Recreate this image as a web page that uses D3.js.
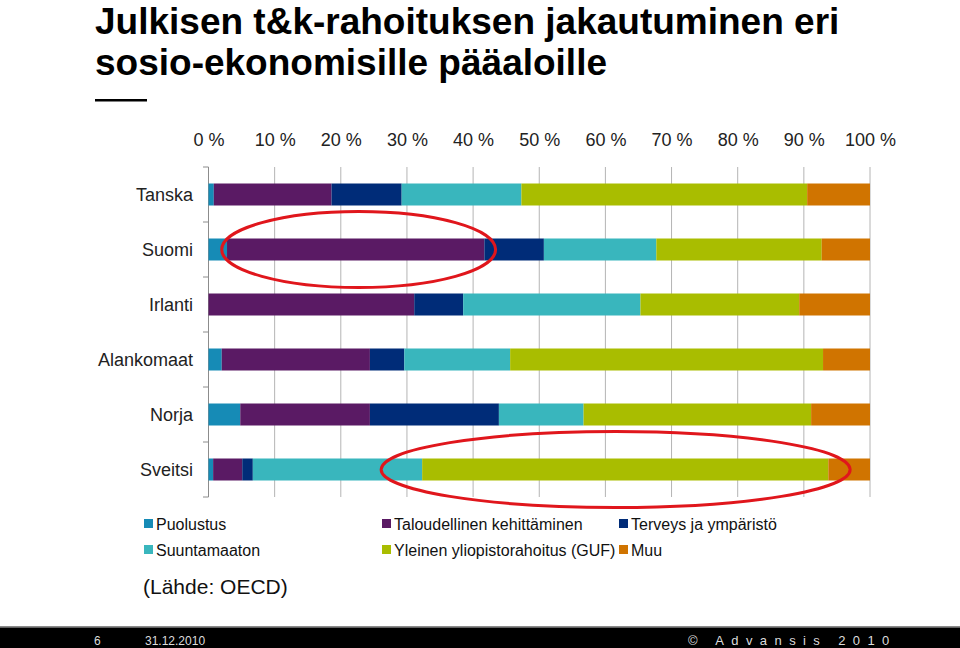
<!DOCTYPE html>
<html><head><meta charset="utf-8">
<script src="https://cdn.jsdelivr.net/npm/d3@7"></script>
<style>body{margin:0;background:#fff}svg{display:block}</style>
</head><body>
<script>
const categories = ["Tanska","Suomi","Irlanti","Alankomaat","Norja","Sveitsi"];
const seriesNames = ["Puolustus","Taloudellinen kehittäminen","Terveys ja ympäristö","Suuntamaaton","Yleinen yliopistorahoitus (GUF)","Muu"];
const puolustus     = [0.8, 2.8, 0.0, 2.0, 4.8, 0.7];
const taloudellinen = [17.8, 38.9, 31.1, 22.4, 19.6, 4.4];
const terveys       = [10.6, 9.0, 7.4, 5.2, 19.5, 1.6];
const suuntamaaton  = [18.1, 17.0, 26.8, 16.0, 12.8, 25.6];
const guf           = [43.2, 25.0, 24.0, 47.3, 34.4, 61.4];
const muu           = [9.5, 7.3, 10.7, 7.1, 8.9, 6.3];
const xTicks = [0,10,20,30,40,50,60,70,80,90,100];
const tickLabels = xTicks.map(d => d + " %");
const colors = ["#168bb6","#5a1a64","#002c78","#39b6bd","#a9bd00","#d07400"];
const highlighted = [{cat:"Suomi", from:2.0, to:43.4}, {cat:"Sveitsi", from:26.1, to:97.0}];

const seriesValues = [puolustus, taloudellinen, terveys, suuntamaaton, guf, muu];
const rows = categories.map((c,i) => {
  const r = {cat:c};
  seriesNames.forEach((s,j) => r[s] = seriesValues[j][i]);
  return r;
});

const W = 960, H = 648;
const svg = d3.select("body").append("svg").attr("width", W).attr("height", H)
  .style("font-family", "'Liberation Sans', Arial, sans-serif");

// Title
svg.append("text").attr("x", 95).attr("y", 34).attr("font-size", 37).attr("font-weight", "bold")
  .text("Julkisen t&k-rahoituksen jakautuminen eri");
svg.append("text").attr("x", 95).attr("y", 75).attr("font-size", 37).attr("font-weight", "bold")
  .text("sosio-ekonomisille pääaloille");
svg.append("rect").attr("x", 95).attr("y", 99).attr("width", 52).attr("height", 2.5).attr("fill", "#000");

const plotTop = 167, plotBottom = 497;
const x = d3.scaleLinear().domain([0,100]).range([208.5, 870]);
const y = d3.scaleBand().domain(categories).range([plotTop, plotBottom]).paddingInner(0.6).paddingOuter(0.3);

// gridlines
svg.append("g").selectAll("line").data(xTicks).join("line")
  .attr("x1", d => x(d)).attr("x2", d => x(d)).attr("y1", plotTop).attr("y2", plotBottom)
  .attr("stroke", d => d === 0 ? "#8c8c8c" : "#b4b4b4").attr("stroke-width", 1);

// top axis labels
const xAxis = d3.axisTop(x).tickValues(xTicks).tickFormat((d,i) => tickLabels[i]).tickSize(0).tickPadding(0);
const gx = svg.append("g").attr("transform", "translate(0,146)").call(xAxis);
gx.select(".domain").remove();
gx.selectAll("text").attr("font-size", 18).attr("fill", "#222").attr("font-family", "'Liberation Sans', Arial, sans-serif").attr("dy", 0);

// category ticks at band boundaries
const bounds = [plotTop].concat(categories.map((c,i) => i < categories.length-1 ? (y(c) + y.bandwidth() + y(categories[i+1]))/2 : plotBottom));
svg.append("g").selectAll("line").data(bounds).join("line")
  .attr("x1", 203).attr("x2", 208.5).attr("y1", d => d).attr("y2", d => d)
  .attr("stroke", "#8c8c8c");

// y labels
svg.append("g").selectAll("text").data(categories).join("text")
  .attr("x", 193).attr("y", d => y(d) + y.bandwidth()/2).attr("dy", "0.36em")
  .attr("text-anchor", "end").attr("font-size", 18).attr("fill", "#222").text(d => d);

// stacked bars
const stack = d3.stack().keys(seriesNames);
const stacked = stack(rows);
svg.append("g").selectAll("g").data(stacked).join("g")
  .attr("fill", (d,i) => colors[i])
  .selectAll("rect").data(d => d).join("rect")
  .attr("x", d => x(d[0])).attr("width", d => x(d[1]) - x(d[0]))
  .attr("y", d => y(d.data.cat)).attr("height", y.bandwidth());

// highlight ellipses
svg.append("g").selectAll("ellipse").data(highlighted).join("ellipse")
  .attr("cx", d => (x(d.from) + x(d.to))/2)
  .attr("cy", d => y(d.cat) + y.bandwidth()/2)
  .attr("rx", d => (x(d.to) - x(d.from))/2)
  .attr("ry", 38)
  .attr("fill", "none").attr("stroke", "#e0161c").attr("stroke-width", 3);

// legend
const legendPos = [[144,524],[382,524],[619,524],[144,550],[382,550],[619,550]];
const lg = svg.append("g").selectAll("g").data(seriesNames).join("g")
  .attr("transform", (d,i) => `translate(${legendPos[i][0]},${legendPos[i][1]})`);
lg.append("rect").attr("x", 0).attr("y", -5).attr("width", 9).attr("height", 9).attr("fill", (d,i) => colors[i]);
lg.append("text").attr("x", 12).attr("y", 0).attr("dy", "0.36em").attr("font-size", 16).attr("fill", "#111").text(d => d);

svg.append("text").attr("x", 143).attr("y", 594).attr("font-size", 21).attr("fill", "#111").text("(Lähde: OECD)");

// footer
svg.append("rect").attr("x", 0).attr("y", 626).attr("width", W).attr("height", 1.5).attr("fill", "#8a8a8a");
svg.append("rect").attr("x", 0).attr("y", 627.5).attr("width", W).attr("height", H - 627.5).attr("fill", "#000");
svg.append("text").attr("x", 94).attr("y", 645).attr("font-size", 12).attr("fill", "#ddd").text("6");
svg.append("text").attr("x", 145).attr("y", 645).attr("font-size", 12).attr("fill", "#ddd").text("31.12.2010");
svg.append("text").attr("x", 688).attr("y", 645).attr("font-size", 13).attr("fill", "#ddd")
  .attr("letter-spacing", "7.4px").text("© Advansis 2010");
</script>
</body></html>
